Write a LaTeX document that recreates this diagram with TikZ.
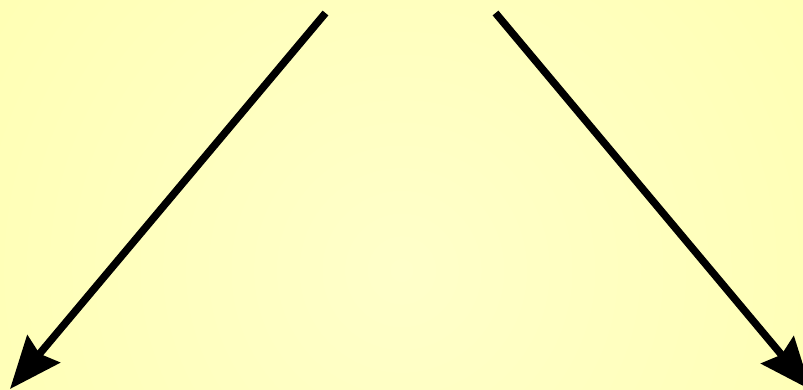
\documentclass[tikz,border=0pt]{standalone}
\usetikzlibrary{arrows.meta}
\definecolor{bgouter}{RGB}{255,255,180}
\definecolor{bginner}{RGB}{255,255,202}
\tikzset{bigarrow/.style={line width=7.5bp,-{Stealth[length=52bp,width=42bp,inset=6bp]}}}
\begin{document}
\begin{tikzpicture}[x=1bp,y=-1bp]
\useasboundingbox (0,0) rectangle (803,389);
\begin{scope}
\clip (0,0) rectangle (803,389);
\shade[inner color=bginner,outer color=bgouter] (401.5,270) circle (500);
\coordinate (ls) at (325.5,13);
\coordinate (lt) at (10,389);
\coordinate (rs) at (495.5,13);
\coordinate (rt) at (811,390);
\draw[bigarrow] (ls) -- (lt);
\draw[bigarrow] (rs) -- (rt);
\end{scope}
\end{tikzpicture}
\end{document}
